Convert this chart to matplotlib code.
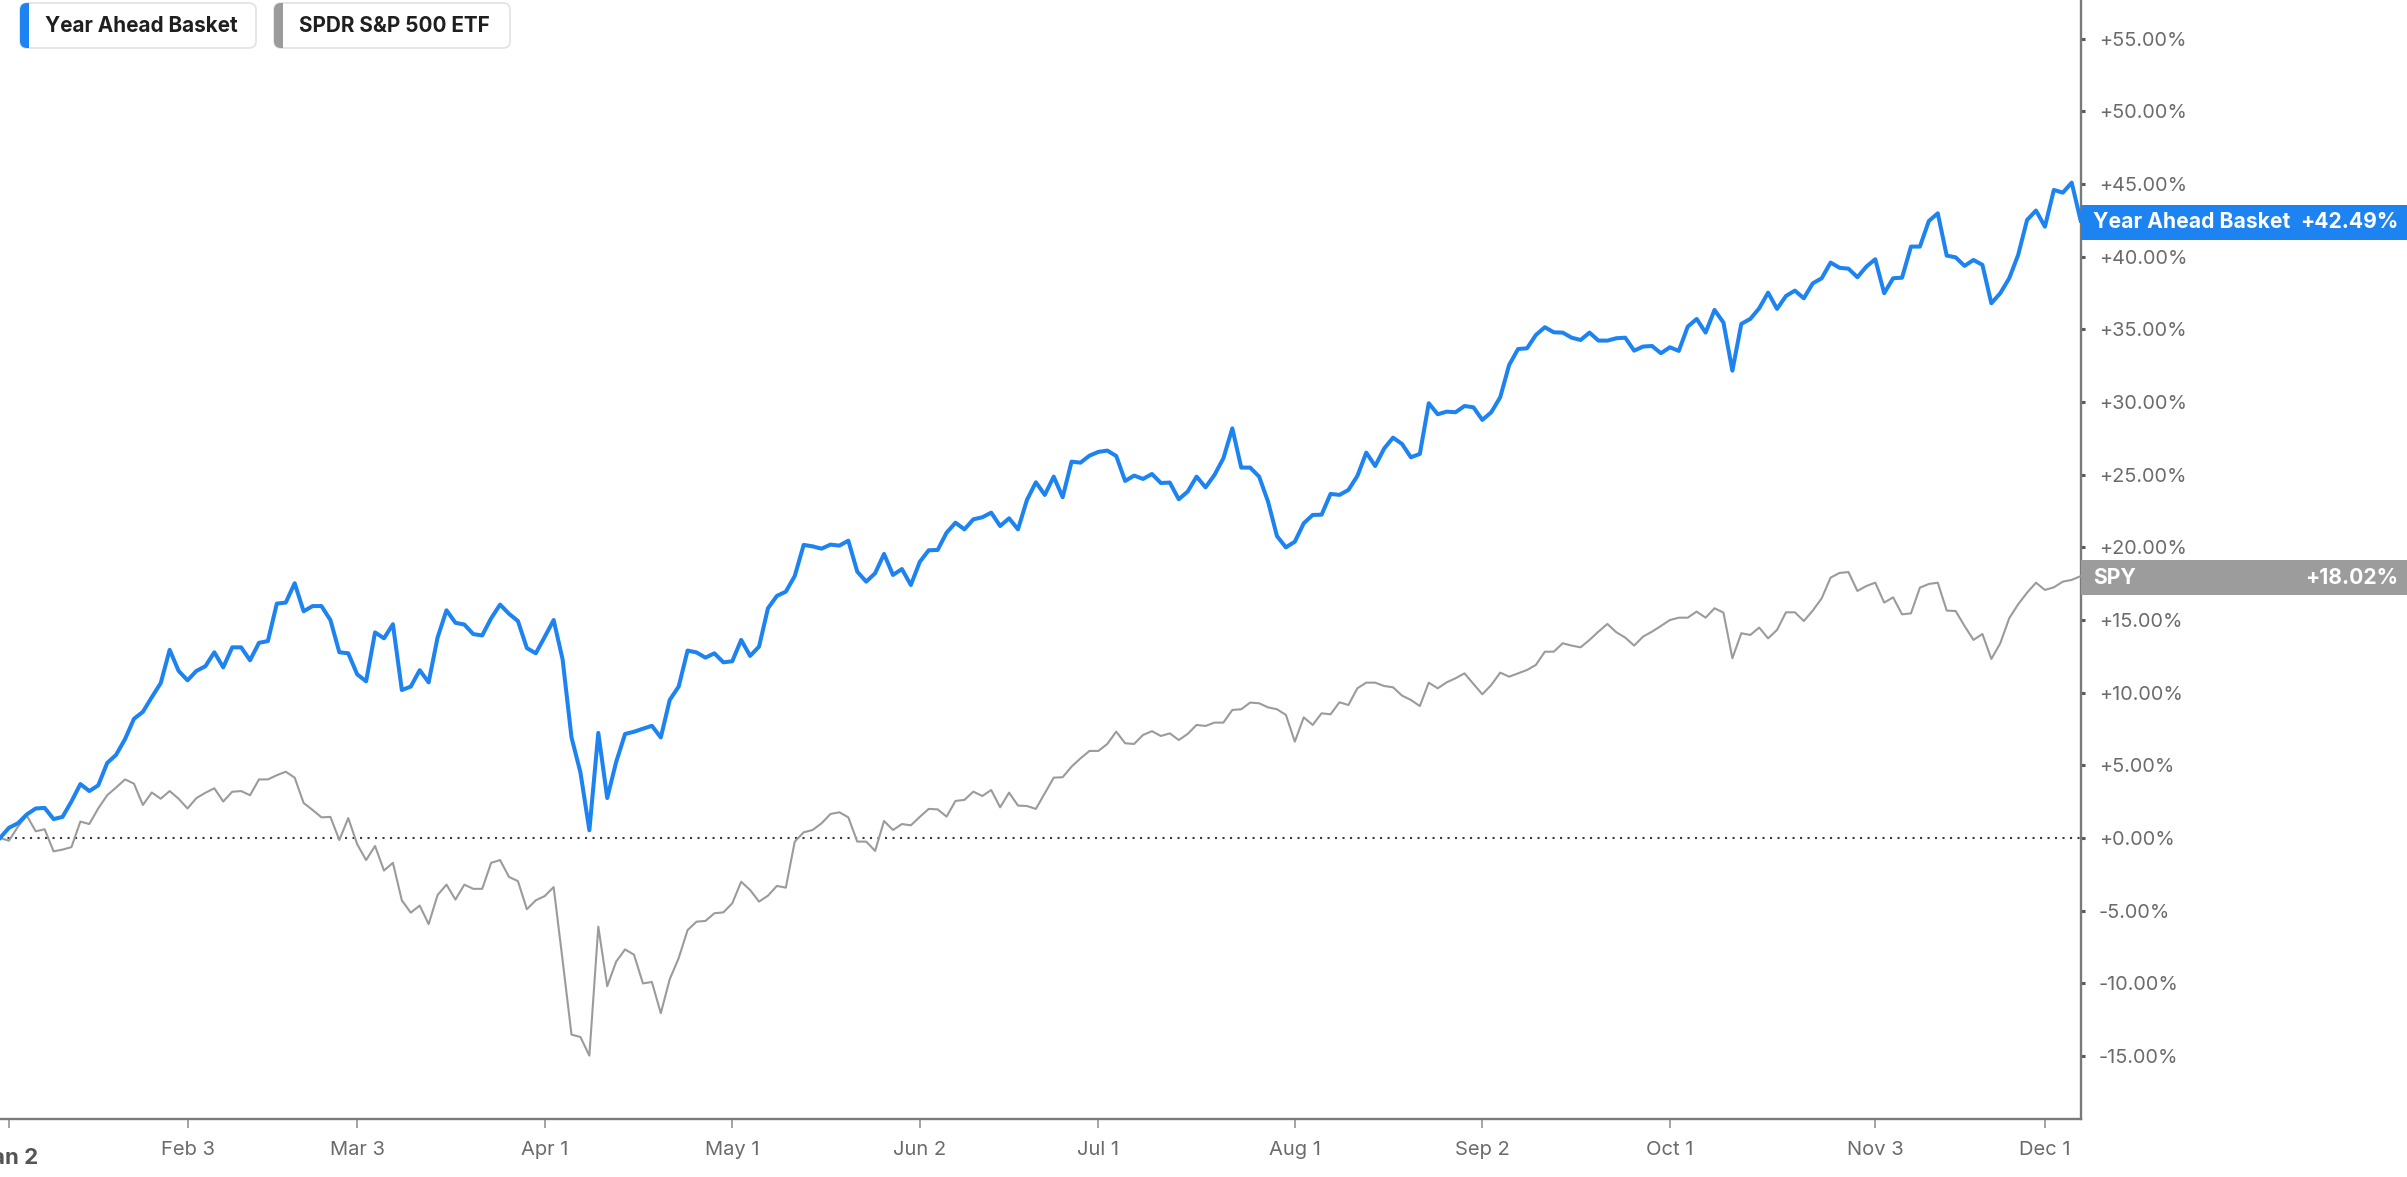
import matplotlib
matplotlib.use("Agg")
import matplotlib.pyplot as plt
from matplotlib.patches import FancyBboxPatch, Rectangle
from matplotlib.transforms import blended_transform_factory, ScaledTranslation

plt.rcParams['font.family'] = ['Inter', 'DejaVu Sans']

# ---------------- data ----------------
series_names = ["Year Ahead Basket", "SPDR S&P 500 ETF"]
end_label_names = ["Year Ahead Basket", "SPY"]

tick_labels = ["Jan 2", "Feb 3", "Mar 3", "Apr 1", "May 1", "Jun 2",
               "Jul 1", "Aug 1", "Sep 2", "Oct 1", "Nov 3", "Dec 1"]
tick_days = [1, 21, 40, 61, 82, 103, 123, 145, 166, 187, 210, 229]  # trading-day index

y_ticks = [-15, -10, -5, 0, 5, 10, 15, 20, 25, 30, 35, 40, 45, 50, 55]

basket = [
    0.00, 0.70, 1.01, 1.62, 2.03, 2.07, 1.30, 1.45, 2.51, 3.71,
    3.23, 3.62, 5.16, 5.72, 6.80, 8.20, 8.68, 9.69, 10.66, 12.95,
    11.50, 10.85, 11.50, 11.82, 12.78, 11.74, 13.12, 13.12, 12.23, 13.43,
    13.55, 16.13, 16.20, 17.53, 15.60, 15.96, 15.96, 15.00, 12.78, 12.71,
    11.26, 10.78, 14.15, 13.74, 14.71, 10.18, 10.42, 11.55, 10.71, 13.79,
    15.67, 14.81, 14.69, 14.03, 13.94, 15.12, 16.06, 15.43, 14.93, 13.07,
    12.71, 13.84, 15.00, 12.30, 6.92, 4.51, 0.53, 7.23, 2.75, 5.23,
    7.16, 7.31, 7.52, 7.72, 6.92, 9.50, 10.42, 12.90, 12.77, 12.41,
    12.71, 12.09, 12.16, 13.63, 12.53, 13.17, 15.81, 16.66, 16.95, 18.03,
    20.17, 20.07, 19.91, 20.19, 20.12, 20.46, 18.33, 17.64, 18.22, 19.55,
    18.10, 18.51, 17.41, 19.00, 19.80, 19.82, 21.01, 21.70, 21.24, 21.93,
    22.07, 22.39, 21.47, 22.00, 21.24, 23.26, 24.48, 23.61, 24.87, 23.45,
    25.90, 25.83, 26.31, 26.57, 26.66, 26.29, 24.57, 24.94, 24.71, 25.05,
    24.43, 24.46, 23.31, 23.84, 24.87, 24.13, 24.98, 26.13, 28.19, 25.49,
    25.49, 24.87, 23.15, 20.78, 20.00, 20.39, 21.66, 22.23, 22.25, 23.68,
    23.61, 23.95, 24.91, 26.52, 25.60, 26.80, 27.55, 27.12, 26.20, 26.43,
    29.92, 29.16, 29.34, 29.30, 29.73, 29.64, 28.77, 29.30, 30.33, 32.55,
    33.65, 33.70, 34.62, 35.15, 34.80, 34.78, 34.43, 34.27, 34.78, 34.23,
    34.23, 34.39, 34.43, 33.54, 33.82, 33.86, 33.36, 33.77, 33.52, 35.19,
    35.72, 34.78, 36.34, 35.47, 32.16, 35.38, 35.72, 36.45, 37.53, 36.41,
    37.30, 37.67, 37.14, 38.17, 38.52, 39.60, 39.24, 39.18, 38.59, 39.32,
    39.83, 37.49, 38.52, 38.56, 40.70, 40.70, 42.46, 42.99, 40.08, 39.96,
    39.37, 39.78, 39.44, 36.80, 37.49, 38.52, 40.12, 42.53, 43.18, 42.07,
    44.60, 44.41, 45.10, 42.49,
]

spy = [
    0.00, -0.19, 0.77, 1.54, 0.46, 0.60, -0.92, -0.80, -0.63, 1.13,
    0.96, 2.03, 2.94, 3.47, 4.03, 3.74, 2.27, 3.13, 2.70, 3.23,
    2.70, 2.03, 2.75, 3.11, 3.42, 2.51, 3.18, 3.23, 2.94, 4.03,
    4.03, 4.32, 4.56, 4.15, 2.41, 1.93, 1.42, 1.45, -0.14, 1.37,
    -0.43, -1.52, -0.55, -2.24, -1.71, -4.29, -5.14, -4.65, -5.93, -3.93,
    -3.21, -4.24, -3.21, -3.50, -3.50, -1.71, -1.52, -2.68, -2.97, -4.90,
    -4.29, -4.00, -3.38, -8.40, -13.53, -13.70, -14.98, -6.10, -10.20, -8.51,
    -7.67, -8.03, -10.01, -9.91, -12.06, -9.72, -8.27, -6.34, -5.76, -5.71,
    -5.18, -5.12, -4.50, -3.01, -3.58, -4.38, -3.97, -3.30, -3.42, -0.25,
    0.39, 0.55, 1.01, 1.65, 1.77, 1.42, -0.25, -0.25, -0.89, 1.17,
    0.55, 0.96, 0.87, 1.45, 2.00, 1.97, 1.47, 2.55, 2.62, 3.19,
    2.89, 3.30, 2.11, 3.12, 2.23, 2.20, 2.00, 3.07, 4.15, 4.18,
    4.91, 5.48, 5.99, 5.99, 6.47, 7.32, 6.52, 6.47, 7.09, 7.35,
    7.02, 7.20, 6.74, 7.16, 7.78, 7.71, 7.94, 7.94, 8.81, 8.86,
    9.32, 9.27, 8.99, 8.86, 8.47, 6.63, 8.30, 7.78, 8.58, 8.51,
    9.34, 9.15, 10.30, 10.69, 10.69, 10.46, 10.37, 9.80, 9.50, 9.08,
    10.69, 10.30, 10.71, 10.99, 11.33, 10.60, 9.89, 10.53, 11.38, 11.10,
    11.33, 11.56, 11.91, 12.82, 12.82, 13.40, 13.24, 13.12, 13.63, 14.20,
    14.73, 14.16, 13.79, 13.24, 13.86, 14.20, 14.59, 15.00, 15.16, 15.16,
    15.58, 15.16, 15.81, 15.51, 12.37, 14.09, 13.97, 14.48, 13.74, 14.32,
    15.53, 15.53, 14.93, 15.65, 16.49, 17.92, 18.24, 18.30, 17.00, 17.34,
    17.57, 16.20, 16.56, 15.39, 15.46, 17.23, 17.48, 17.57, 15.65, 15.62,
    14.59, 13.63, 14.04, 12.32, 13.40, 15.12, 16.08, 16.88, 17.57, 17.07,
    17.25, 17.64, 17.76, 18.02,
]

days = list(range(len(basket)))

# ---------------- style ----------------
W, H = 2407, 1177
BLUE = "#1D83F1"
GREY_LINE = "#9b9b9b"
GREY_BOX = "#9c9c9c"
AXIS = "#7a7a7a"
LABEL = "#6b6b6b"

fig = plt.figure(figsize=(W / 100, H / 100), dpi=100)
fig.patch.set_facecolor("white")

ax_right_px = 2081
ax_bottom_px = 1119
ax = fig.add_axes([0, 1 - ax_bottom_px / H, ax_right_px / W, ax_bottom_px / H])
ax.set_facecolor("white")

ax.plot(days, spy, color=GREY_LINE, lw=1.5, zorder=3)
ax.plot(days, basket, color=BLUE, lw=2.9, zorder=4)
ax.axhline(0, color="#3a3a3a", lw=1.5, ls=(0, (1, 2.6)), zorder=2)

ax.set_xlim(0, 233.04)
ax.set_ylim(-19.34, 57.67)

for s in ["top", "left"]:
    ax.spines[s].set_visible(False)
for s in ["right", "bottom"]:
    ax.spines[s].set_color(AXIS)
    ax.spines[s].set_linewidth(1.7)

ax.yaxis.tick_right()
ax.set_yticks(y_ticks)
ax.set_yticklabels([f"{v:+.2f}%" for v in y_ticks])
ax.tick_params(axis="y", length=3, width=2.2, color="#5a5a5a", pad=10,
               labelsize=14.3, labelcolor=LABEL)

ax.set_xticks(tick_days)
ax.set_xticklabels(tick_labels)
ax.tick_params(axis="x", length=6.5, width=1.1, color="#8a8a8a", pad=9,
               labelsize=14.5, labelcolor=LABEL)
first = ax.get_xticklabels()[0]
first.set_fontweight("bold")
first.set_fontsize(16)
first.set_color("#555555")
first.set_transform(first.get_transform() + ScaledTranslation(0, -0.07, fig.dpi_scale_trans))

# ---------------- end labels ----------------
trans = blended_transform_factory(fig.transFigure, ax.transData)
box_h = 35 / 14.53
for name, vals, col in [(end_label_names[0], basket, BLUE), (end_label_names[1], spy, GREY_BOX)]:
    v = vals[-1]
    ax.add_patch(Rectangle((ax_right_px / W, v - box_h / 2 - 0.1), 1 - ax_right_px / W, box_h,
                           transform=trans, facecolor=col, edgecolor="none",
                           clip_on=False, zorder=6))
    ax.text(2093 / W, v - 0.1, name, transform=trans, ha="left", va="center",
            color="white", fontsize=15.2, fontweight="bold", zorder=7, clip_on=False)
    ax.text(2398 / W, v - 0.1, f"{v:+.2f}%", transform=trans, ha="right", va="center",
            color="white", fontsize=15.2, fontweight="bold", zorder=7, clip_on=False)

# ---------------- legend chips ----------------
inch = fig.dpi_scale_trans
chips = [(20, 256, BLUE, series_names[0]), (274, 510, GREY_LINE, series_names[1])]
for x0, x1, col, name in chips:
    y_top, y_bot = 3, 48
    box = FancyBboxPatch((x0 / 100, (H - y_bot) / 100), (x1 - x0) / 100, (y_bot - y_top) / 100,
                         boxstyle="round,pad=0,rounding_size=0.07",
                         transform=inch, facecolor="white", edgecolor="#e4e4e4",
                         linewidth=1.3, zorder=10)
    fig.add_artist(box)
    bar = Rectangle((x0 / 100 - 0.02, (H - y_bot) / 100 - 0.02), 0.11, (y_bot - y_top) / 100 + 0.04,
                    transform=inch, facecolor=col, edgecolor="none", zorder=11)
    fig.add_artist(bar)
    bar.set_clip_path(box)
    fig.text((x0 + 25) / W, 1 - 25.5 / H, name, ha="left", va="center",
             fontsize=14.9, fontweight="bold", color="#1f1f1f", zorder=12)

fig.savefig("out.png", dpi=100, facecolor="white")
